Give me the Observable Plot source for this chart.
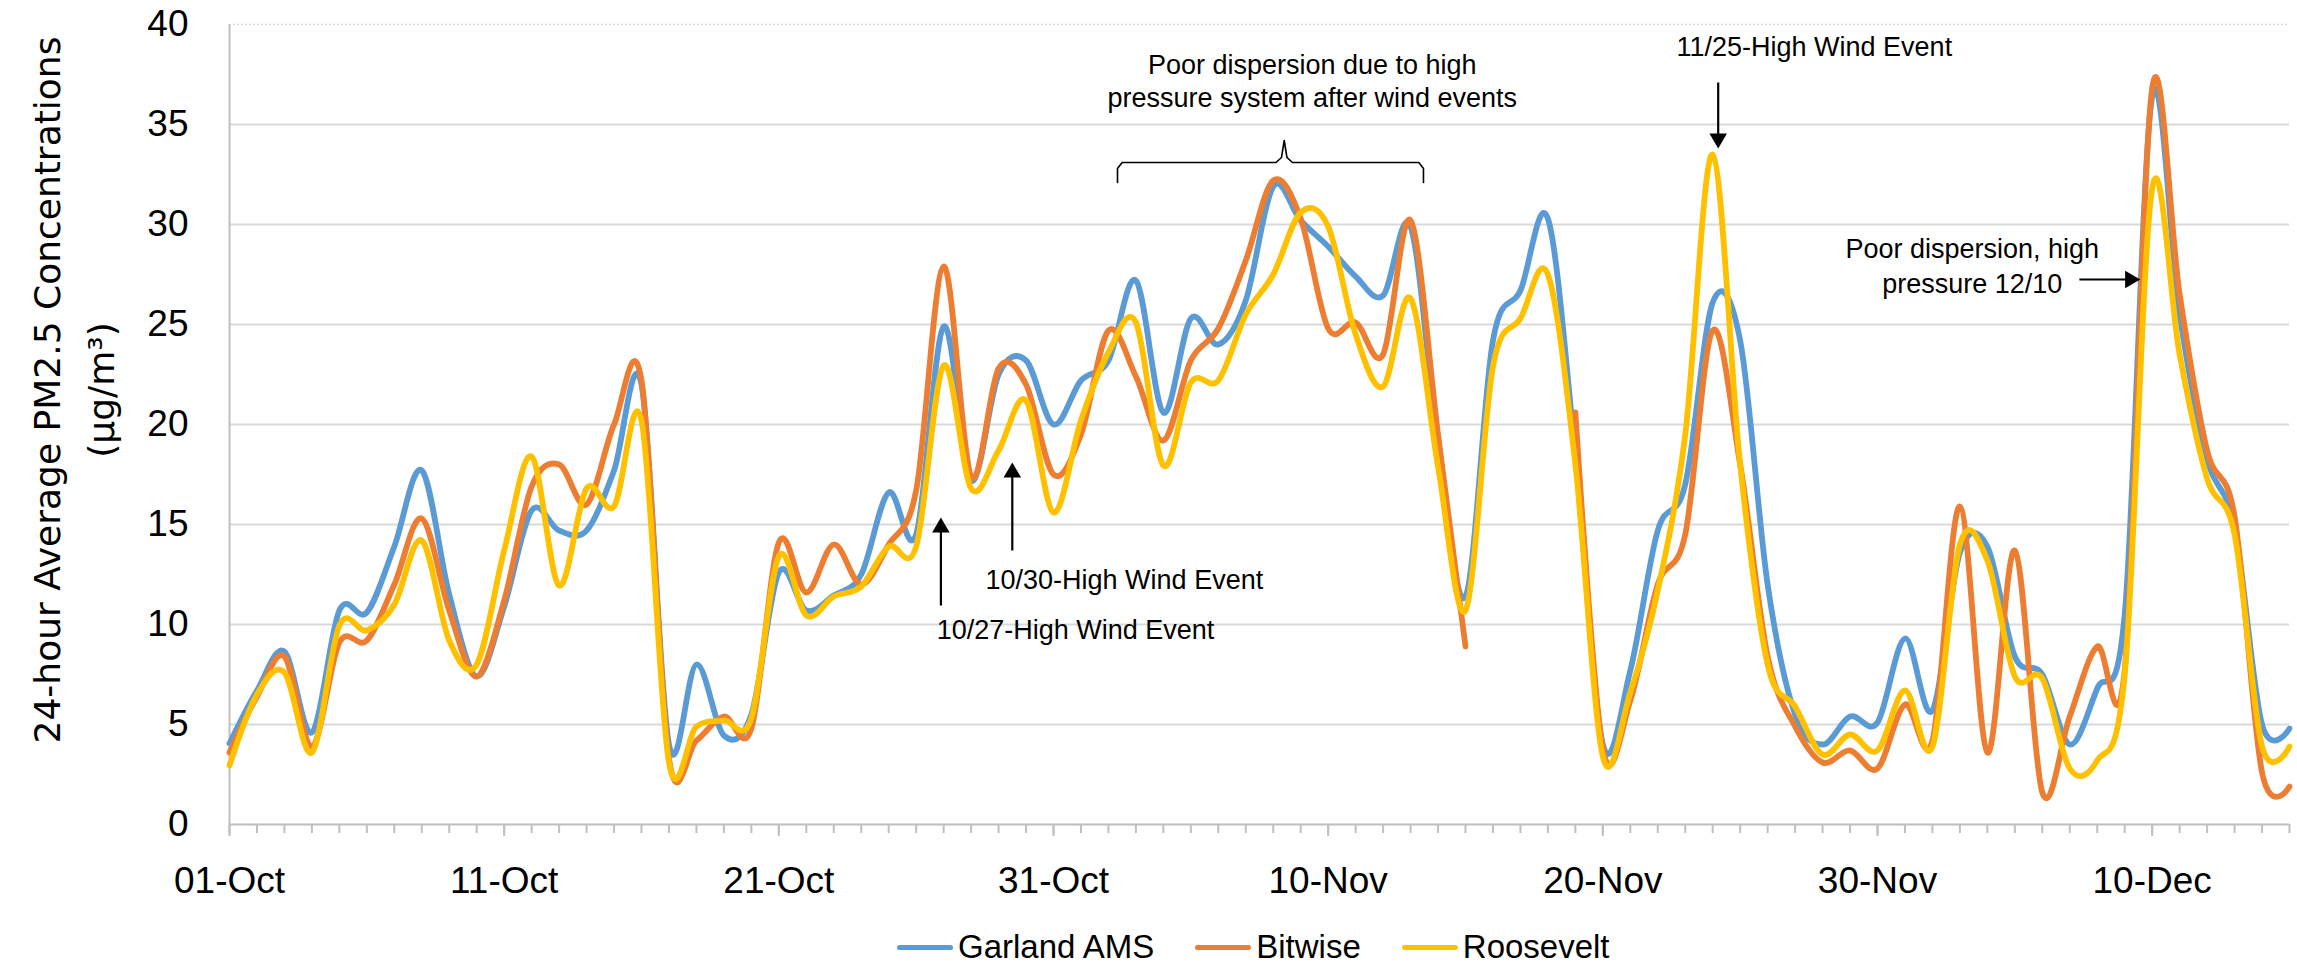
<!DOCTYPE html>
<html><head><meta charset="utf-8">
<script src="https://cdn.jsdelivr.net/npm/d3@7"></script>
<script src="https://cdn.jsdelivr.net/npm/@observablehq/plot@0.6"></script>
<style>
body{margin:0;background:#fff;}
#wrap{position:relative;width:2297px;height:969px;overflow:hidden;font-family:"Liberation Sans",Arial,sans-serif;}
#legend{position:absolute;left:897px;top:928px;display:flex;align-items:center;font-size:33px;color:#000;white-space:nowrap;}
.sw{display:inline-block;width:56px;height:5px;border-radius:3px;margin-right:5px;}
.item{display:flex;align-items:center;margin-right:41px;}
</style></head><body>
<div id="wrap"><div id="chart"></div><div id="legend"></div></div>
<script>
// ---- data ----
const startDate = [2019, 9, 1];          // 01-Oct
const seriesNames = ["Garland AMS", "Bitwise", "Roosevelt"];
const seriesColors = ["#5B9BD5", "#ED7D31", "#FFC000"];
const garland = [4.05,6.7,8.65,4.6,10.7,10.6,13.9,17.7,11.5,7.4,
  10.9,15.7,14.7,14.7,17.7,22.0,4.0,8.0,4.45,5.5,
  12.6,10.7,11.45,12.5,16.6,14.5,24.9,17.2,22.5,23.2,
  20.0,22.2,23.2,27.2,20.6,25.3,24.0,26.2,31.9,30.2,
  28.9,27.4,26.45,29.9,19.0,11.4,24.2,26.7,30.3,18.5,
  4.0,7.7,14.7,17.0,26.1,24.2,12.0,5.5,4.0,5.4,
  5.1,9.3,5.7,13.6,13.9,8.4,7.5,4.0,6.8,10.5,
  36.4,25.5,18.3,14.9,5.0,4.8];
const bitwise = [3.6,6.4,8.4,3.9,9.1,9.2,12.0,15.3,10.7,7.4,
  11.2,16.9,18.0,16.0,20.0,22.2,3.3,4.2,5.4,4.8,
  14.1,11.6,14.0,12.0,14.0,16.7,27.9,17.4,22.8,22.0,
  17.5,19.5,24.7,22.4,19.2,23.2,24.8,28.2,32.2,30.3,
  24.8,25.1,23.5,30.2,19.5,8.9,null,null,null,20.6,
  3.8,6.2,12.0,14.5,24.7,18.0,8.4,4.9,3.1,3.7,
  2.8,6.0,4.2,15.9,3.6,13.7,1.6,5.4,8.9,7.7,
  36.8,26.5,18.7,15.4,2.6,1.9];
const roosevelt = [2.95,6.5,7.6,3.6,9.95,9.7,11.0,14.2,9.2,8.0,
  13.7,18.4,11.95,16.8,15.9,20.2,3.1,4.9,5.2,5.3,
  13.4,10.45,11.4,11.9,13.9,13.9,22.95,16.8,18.7,21.2,
  15.6,20.2,23.6,25.1,17.95,22.1,22.2,25.5,27.5,30.6,
  29.9,24.5,21.9,26.3,17.9,10.7,22.9,25.3,27.5,18.0,
  3.4,6.6,11.7,19.5,33.5,18.0,8.0,5.9,3.5,4.5,
  3.7,6.7,3.9,14.0,13.2,7.4,7.3,2.8,3.2,7.5,
  31.8,23.5,17.3,14.5,3.9,3.9];
const xTickLabels = ["01-Oct","11-Oct","21-Oct","31-Oct","10-Nov","20-Nov","30-Nov","10-Dec"];
const xTickDays = [0,10,20,30,40,50,60,70];
const yTicks = [0,5,10,15,20,25,30,35,40];
const yTitle = ["24-hour Average PM2.5 Concentrations", "(µg/m³)"];

// annotations (positions in data units: day offset from 01-Oct, concentration)
const noteText = ["Poor dispersion due to high\npressure system after wind events",
  "10/30-High Wind Event", "10/27-High Wind Event", "11/25-High Wind Event",
  "Poor dispersion, high", "pressure 12/10"];
const noteDay = [39.42, 32.58, 30.8, 57.7, 63.45, 63.45];
const noteValue = [37.25, 12.3, 9.8, 38.95, 28.85, 27.1];
// arrows: from (day1,val1) to tip (day2,val2); head rotation
const arrowDay1 = [25.9, 28.5, 54.2, 67.35];
const arrowVal1 = [10.95, 13.7, 37.1, 27.25];
const arrowDay2 = [25.9, 28.5, 54.2, 69.2];
const arrowVal2 = [14.85, 17.6, 34.3, 27.25];
const arrowRot = [0, 0, 180, 90];
// brace over the poor-dispersion period
const braceDay = [32.33, 32.33, 32.5, 38.1, 38.3, 38.4, 38.5, 38.7, 43.3, 43.47, 43.47];
const braceVal = [32.1, 32.8, 33.1, 33.1, 33.35, 34.2, 33.35, 33.1, 33.1, 32.8, 32.1];

// ---- build ----
const d0 = Date.UTC(...startDate);
const DAY = 86400000;
const toDate = d => new Date(d0 + d * DAY);
const allSeries = [garland, bitwise, roosevelt];
const rows = [];
allSeries.forEach((vals, s) => vals.forEach((v, i) => rows.push({date: toDate(i), value: v, series: seriesNames[s]})));
const nDays = garland.length;
const dayDates = d3.range(nDays).map(toDate);
const majorDates = xTickDays.map(toDate);
const notes = noteText.map((t, i) => ({t, x: toDate(noteDay[i]), y: noteValue[i]}));
const arrows = arrowDay1.map((_, i) => ({x1: toDate(arrowDay1[i]), y1: arrowVal1[i], x2: toDate(arrowDay2[i]), y2: arrowVal2[i], r: arrowRot[i]}));
const brace = braceDay.map((d, i) => ({x: toDate(d), y: braceVal[i]}));

const chart = Plot.plot({
  width: 2297, height: 915,
  marginLeft: 229, marginRight: 8, marginTop: 24, marginBottom: 91,
  style: {fontFamily: '"Liberation Sans", Arial, sans-serif', fontSize: "37px", color: "#000", background: "#fff", overflow: "visible"},
  x: {type: "utc", domain: [toDate(0), toDate(nDays - 1)], label: null},
  y: {domain: [0, 40], label: null},
  color: {domain: seriesNames, range: seriesColors},
  marks: [
    Plot.ruleY(yTicks.filter(d => d > 0 && d < 40), {stroke: "#d9d9d9", strokeWidth: 2}),
    Plot.ruleY([40], {stroke: "#d9d9d9", strokeWidth: 1.5, strokeDasharray: "2,2"}),
    Plot.axisY({ticks: yTicks, tickSize: 0, tickPadding: 41, label: null, fontSize: 37}),
    Plot.axisX({ticks: dayDates, tickSize: 9, tickFormat: () => "", stroke: "#bfbfbf", strokeWidth: 2, label: null}),
    Plot.axisX({ticks: majorDates, tickSize: 12, tickPadding: 30, stroke: "#bfbfbf", strokeWidth: 2, fill: "#000", label: null, fontSize: 37,
      tickFormat: d => xTickLabels[majorDates.findIndex(m => +m === +d)]}),
    Plot.ruleX([toDate(0)], {stroke: "#bfbfbf", strokeWidth: 2}),
    Plot.ruleY([0], {stroke: "#bfbfbf", strokeWidth: 2}),
    Plot.line(rows, {x: "date", y: "value", z: "series", stroke: "series", strokeWidth: 5.8, curve: "cardinal", tension: 0, strokeLinejoin: "round", strokeLinecap: "round"}),
    Plot.line(brace, {x: "x", y: "y", stroke: "#000", strokeWidth: 1.6, curve: "linear"}),
    Plot.link(arrows, {x1: "x1", y1: "y1", x2: "x2", y2: "y2", stroke: "#000", strokeWidth: 2.2}),
    Plot.dot(arrows, {x: "x2", y: "y2", symbol: "triangle", r: 6.5, fill: "#000", stroke: null, rotate: "r"}),
    Plot.text(notes, {x: "x", y: "y", text: "t", fontSize: 27, lineHeight: 1.22, fill: "#000", textAnchor: "middle"})
  ]
});
document.getElementById("chart").appendChild(chart);

// y-axis title
const svg = d3.select(chart);
const t = svg.append("text")
  .attr("transform", "translate(76,390) rotate(-90)")
  .attr("text-anchor", "middle")
  .attr("font-family", '"DejaVu Sans", Verdana, sans-serif')
  .attr("font-size", 36).attr("fill", "#000");
t.append("tspan").attr("x", 0).attr("dy", "-0.45em").text(yTitle[0]);
t.append("tspan").attr("x", 0).attr("dy", "1.5em").text(yTitle[1]);

// legend
const lg = d3.select("#legend");
seriesNames.forEach((n, i) => {
  const it = lg.append("div").attr("class", "item");
  it.append("span").attr("class", "sw").style("background", seriesColors[i]);
  it.append("span").text(n);
});
</script></body></html>
